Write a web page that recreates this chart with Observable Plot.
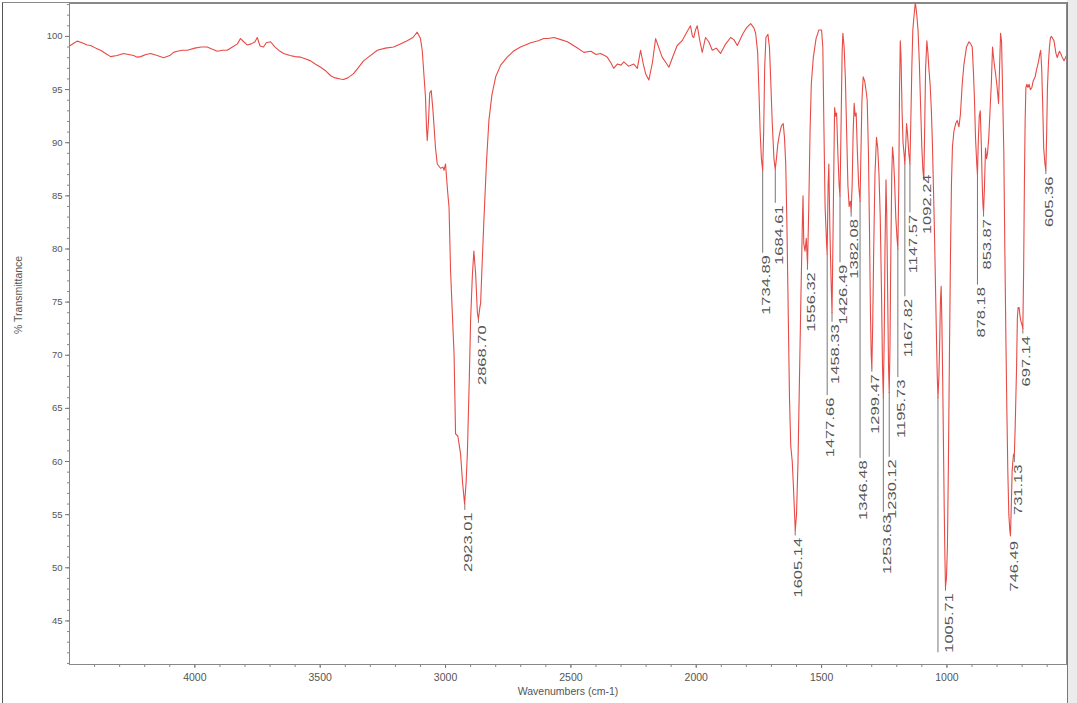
<!DOCTYPE html>
<html><head><meta charset="utf-8">
<script src="https://cdn.jsdelivr.net/npm/d3@7"></script>
<script src="https://cdn.jsdelivr.net/npm/@observablehq/plot@0.6"></script>
<style>
html,body{margin:0;padding:0;background:#fff;}
#wrap{position:relative;width:1077px;height:703px;overflow:hidden;background:linear-gradient(to right,#fff 0,#fff 1067px,#ececec 1067px);}
#border{position:absolute;left:2px;top:2px;width:1064px;height:720px;border-left:1px solid #555;border-top:1px solid #888;border-right:1px solid #777;pointer-events:none;}
svg{display:block;}
</style></head>
<body><div id="wrap"><div id="border"></div></div>
<script>
// Spectrum (wavenumber cm-1, % transmittance)
const wavenumber = [
4500,4480,4469,4450,4430,4416,4395,4376,4356,4336,4310,4284,4265,4244,4230,4216,4195,4176,4150,4125,4100,4085,4070,4050,4030,4000,3975,3951,3930,3910,3890,3871,3850,3830,3818,3805,3791,3775,3760,3751,3740,3726,3715,3698,3680,3660,3646,3620,3600,3578,3560,3538,3520,3498,3480,3458,3440,3420,3407,3390,3367,3350,3327,3300,3272,3240,3207,3180,3153,3130,3113,3100,3093,3085,3080,3076,3073,3068,3063,3057,3050,3040,3033,3020,3010,3006,3000,2992,2986,2980,2973,2966,2960,2951,2945,2940,2932,2924,2918,2913,2905,2900,2893,2887,2880,2873,2869,2863,2860,2855,2847,2837,2827,2815,2800,2780,2754,2730,2701,2660,2630,2608,2590,2568,2540,2514,2480,2448,2420,2400,2382,2365,2355,2340,2329,2315,2300,2289,2270,2249,2235,2222,2212,2202,2189,2175,2162,2150,2136,2120,2109,2095,2076,2056,2040,2023,2015,2010,2003,1996,1985,1976,1963,1950,1936,1920,1903,1885,1863,1850,1836,1815,1800,
1783,1770,1763,1755,1750,1745,1740,1735,1731,1727,1722,1714,1708,1703,1697,1690,1685,1680,1675,1668,1660,1653,1648,1643,1638,1633,1628,1623,1617,1612,1605,1600,1594,1588,1582,1577,1574,1571,1566,1561,1556,1551,1546,1541,1533,1522,1511,1500,1495,1491,1486,1480,1477.66,1474,1471,1467,1462,1458.33,1455,1452,1448,1444,1440,1435,1430,1426.49,1422,1418,1415,1410,1405,1400,1395,1390,1385,1382.08,1378,1374,1370,1366,1362,1357,1352,1346.48,1343,1339,1334,1328,1322,1318,1313,1309,1305,1302,1299.47,1296,1292,1287,1281,1276,1271,1266,1261,1257,1253.63,1250,1247,1243,1240,1236,1233,1230.12,1227,1224,1220,1217,1213,1209,1204,1199,1195.73,1192,1189,1186,1183,1179,1175,1171,1167.82,1164,1161,1157,1152,1147.57,1144,1140,1136,1131,1126,1120,1115,1110,1105,1100,1096,1092.24,1089,1085,1080,1076,1072,1067,1062,1058,1054,1050,1046,1042,1038.5,1035.71,1032,1029,1026,1023,1020,1017,1014,1011,1008,1005.71,1002,998,994,990,986,982,978,972,965,959,952,946,939,932,922,912,905,899,894,890,886,881,878.18,875,871,867,863,859,856,853.87,850,846,842,838,833,828,823,818,814,810,806,801,797,794,790,786,782,778,773,769,765,761,757,753,749,746.49,743,740,737,734,731.13,728,725,722,719,716,712,709,706,702,697.14,694,691,688,685,681,677,672,667,661,656,652,648,643,638,634,630,626,622,618,614,609,605.36,602,599,595,591,587,583,578,573,569,565,560,556,551,546,541,537,533,527,523
];
const transmittance = [
99.1,99.4,99.56,99.4,99.2,99.15,98.9,98.7,98.4,98.1,98.2,98.4,98.3,98.2,98.05,98.1,98.3,98.4,98.2,98.0,98.2,98.5,98.6,98.7,98.7,98.9,99.0,99.0,98.8,98.6,98.7,98.7,99.0,99.3,99.8,99.5,99.2,99.3,99.5,99.9,99.1,99.0,99.4,99.5,99.0,98.6,98.4,98.2,98.1,98.05,97.9,97.7,97.4,97.1,96.8,96.3,96.1,96.0,95.95,96.1,96.5,97.0,97.7,98.2,98.7,98.9,99.0,99.3,99.6,99.9,100.4,99.8,98.7,96,94.3,91.5,90.2,92,94.7,94.9,93,89.5,88.0,87.6,87.7,87.4,88.0,85.5,83.9,78,74,70.1,62.6,62.4,61.5,60.7,58,56.0,58,60.7,68,73.3,77.5,79.8,77.7,74,73.4,74.5,74.9,78,82.7,88,92.1,94.5,96.2,97.3,98.05,98.6,99.0,99.4,99.6,99.8,99.8,99.9,99.7,99.5,99.0,98.5,98.6,98.3,98.4,98.2,98.05,97.5,97.0,97.4,97.3,97.6,97.2,97.4,97.0,98.7,97.5,96.5,95.9,97.5,99.8,99.0,98.05,97.5,97.1,98.0,99.15,99.6,100.3,101.0,100.0,99.9,100.6,101.0,99.5,98.5,99.9,99.5,98.7,98.9,98.4,99.2,99.9,99.7,99.15,100.2,100.8,
101.2,100.8,100.3,98.5,95,91,88.5,87.4,91,97,99.9,100.2,99,96,92,88.5,87.5,88.5,89.8,90.8,91.6,91.8,90.5,88,82,74,66,61.5,60,57.5,53.5,55,60,68,76,82,85,80.5,79.8,81,78.5,84,91,95.5,98,99.8,100.6,100.6,99,92,84,80.5,79.5,86,88,82,77,74,80,86,93.3,92.5,92.8,89,86,85,92,98.5,100.3,99,96,91,86,84,84.5,83.5,86,91,93.7,92.5,92.8,89,86,84.5,89,94,96.2,95.8,94.8,94,89,82,74,70,68.8,73,80,87,90.5,89.5,87,83,76,69,66,72,80,86.5,83,75,69,66.5,71,79,87,89.6,88.5,86.5,83,81,80,86,95,99.6,98,93,90,89,88,90,91.8,90.8,89,88,92,97,100.6,102,103.2,102,100.5,97.5,93.5,89.5,87.5,86.5,91,97,99.6,98.5,97,95.5,93,90,86,82,77,72,68,66,68,71,75,76.5,73,68,62,56,51,48.2,49,52,60,70,79,86,89.6,91.1,91.8,92.1,91.5,92.7,95.5,97.4,99,99.5,99.3,99,96.5,94,90.5,88,87,90,92.5,93,90,86,84,83.5,86,89.5,88.5,89,90.5,93,95.5,99,98,97.2,96.5,95.5,94.5,93.7,97,100.3,99.5,95,89,80,72,65,59,55,53.5,53,56,59,60,60.7,60.5,63,66,69,73.5,74.5,74.5,73.8,73.3,73,72.5,78,86,92,95.2,95.5,95.2,95.5,95,95.2,95.8,96,96.2,96.8,97.3,97.7,98.3,98.7,97,93.7,89.5,88,87.4,91,95.2,97.5,99,99.9,100,99.8,99.6,99,98.4,98,98.3,98.6,98.4,98.1,97.9,97.7,98,98.2
];

// Peak annotations
const peakText = ["2923.01","2868.70","1734.89","1684.61","1605.14","1556.32","1477.66","1458.33","1426.49","1382.08","1346.48","1299.47","1253.63","1230.12","1195.73","1167.82","1147.57","1092.24","1005.71","878.18","853.87","746.49","731.13","697.14","605.36"];
const peakWavenumber = [2923.01,2868.70,1734.89,1684.61,1605.14,1556.32,1477.66,1458.33,1426.49,1382.08,1346.48,1299.47,1253.63,1230.12,1195.73,1167.82,1147.57,1092.24,1005.71,878.18,853.87,746.49,731.13,697.14,605.36];
const peakT =  [56.0,73.4,87.4,87.5,53.5,78.5,79.5,74.0,85.0,83.5,84.5,68.8,66.0,66.5,80.0,88.0,88.0,86.5,48.2,87.0,83.5,53.0,60.5,72.5,87.4];
const labelT = [55.4,73.0,79.6,84.3,53.0,78.0,66.2,73.1,78.7,83.0,60.3,68.4,55.2,60.4,67.9,75.5,83.4,87.2,47.8,76.6,83.0,52.7,59.9,72.0,87.0];
// Leader line whose label falls outside the frame
const extraLeaderW = [1035.71];
const extraLeaderTop = [66.0];
const extraLeaderBottom = [42.0];

// Axis ticks
const xMajorTicks = [4000,3500,3000,2500,2000,1500,1000];
const xMinorTicks = d3.range(600, 4500, 100);
const yMajorTicks = [45,50,55,60,65,70,75,80,85,90,95,100];
const yMinorTicks = d3.range(41, 104, 1);
const xLabel = "Wavenumbers (cm-1)";
const yLabel = "% Transmittance";

const spectrum = wavenumber.map((w, i) => ({w, t: transmittance[i]}));
const peaks = peakText.map((text, i) => ({text, w: peakWavenumber[i], peak: peakT[i], label: labelT[i]}));
const leaders = peaks.filter(d => d.peak - d.label > 0.3)
  .concat(extraLeaderW.map((w, i) => ({w, peak: extraLeaderTop[i], label: extraLeaderBottom[i]})));

const chart = Plot.plot({
  width: 1077, height: 703,
  marginLeft: 69, marginRight: 11, marginTop: 3, marginBottom: 39,
  style: {background: "transparent", fontFamily: "'Liberation Sans', Arial, sans-serif", color: "#444"},
  x: {domain: [4500, 523]},
  y: {domain: [40.9, 103.1]},
  marks: [
    Plot.axisX({ticks: xMinorTicks, tickSize: 3, tickFormat: () => "", label: null, stroke: "#888"}),
    Plot.axisX({ticks: xMajorTicks, tickSize: 4, tickPadding: 5, tickFormat: d => String(d), fontSize: 10.5, label: null, stroke: "#777", fill: "#555"}),
    Plot.axisY({ticks: yMinorTicks, tickSize: 2, tickFormat: () => "", label: null, stroke: "#888"}),
    Plot.axisY({ticks: yMajorTicks, tickSize: 4, tickPadding: 3, fontSize: 9.5, label: null, stroke: "#777", fill: "#555"}),
    Plot.frame({stroke: "#888"}),
    Plot.ruleX(leaders, {x: "w", y1: "peak", y2: "label", stroke: "#777", strokeWidth: 1}),
    Plot.line(spectrum, {x: "w", y: "t", stroke: "#e84a45", strokeWidth: 1.1, clip: true}),
    Plot.text(peaks, {x: "w", y: "label", text: "text", rotate: -90, textAnchor: "end", lineAnchor: "middle", dx: 4, dy: 2, fontSize: 10, fill: "#555", ariaDescription: "peaklabels"}),
    Plot.text([yLabel], {frameAnchor: "left", dx: -51, rotate: -90, fontSize: 10.5, fill: "#555"}),
    Plot.text([xLabel], {frameAnchor: "bottom", dy: 30, fontSize: 10.5, fill: "#555"})
  ]
});
document.getElementById("wrap").prepend(chart);
d3.select(chart).selectAll("g[aria-description=peaklabels] text").each(function() {
  const t = this.getAttribute("transform") || "";
  this.setAttribute("transform", t + " scale(1.65,1)");
});
</script>
</body></html>
